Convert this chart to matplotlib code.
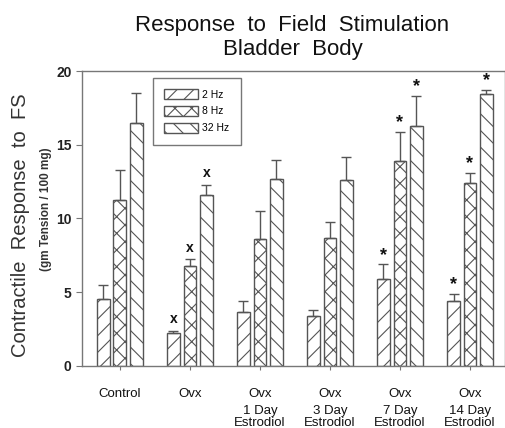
import numpy as np
import matplotlib.pyplot as plt
import matplotlib.transforms as mtransforms

plt.rcParams['font.family'] = ['Liberation Sans', 'DejaVu Sans']
plt.rcParams['hatch.color'] = '#555555'
plt.rcParams['hatch.linewidth'] = 0.8

# Data
groups = ['Control', 'Ovx', 'Ovx', 'Ovx', 'Ovx', 'Ovx']
sub_labels = ['', '', '1 Day\nEstrodiol', '3 Day\nEstrodiol', '7 Day\nEstrodiol', '14 Day\nEstrodiol']
freqs = ['2 Hz', '8 Hz', '32 Hz']

hz2 = [4.55, 2.26, 3.68, 3.39, 5.89, 4.40]
hz8 = [11.28, 6.79, 8.58, 8.69, 13.9, 12.4]
hz32 = [16.5, 11.62, 12.66, 12.6, 16.3, 18.46]

hz2_err = [0.95, 0.13, 0.74, 0.40, 0.99, 0.50]
hz8_err = [2.02, 0.43, 1.92, 1.04, 2.0, 0.7]
hz32_err = [2.0, 0.68, 1.34, 1.6, 2.0, 0.24]

# significance marks: per group, per frequency
marks2 = ['', 'x', '', '', '*', '*']
marks8 = ['', 'x', '', '', '*', '*']
marks32 = ['', 'x', '', '', '*', '*']

values = [hz2, hz8, hz32]
errors = [hz2_err, hz8_err, hz32_err]
marks = [marks2, marks8, marks32]
hatches = ['//', 'xx', '\\\\']

fig = plt.figure(figsize=(5.06, 4.28), dpi=100)
ax = fig.add_axes([0.162, 0.145, 0.836, 0.689])

x = np.arange(len(groups))
width = 0.18
offsets = [-0.235, 0, 0.235]
edge = '#555555'

for vals, errs, mk, h, off, lab in zip(values, errors, marks, hatches, offsets, freqs):
    ax.bar(x + off, vals, width, color='white', edgecolor=edge, hatch=h,
           linewidth=1.0, label=lab, zorder=2)
    ax.errorbar(x + off, vals, yerr=[np.zeros(len(vals)), errs], fmt='none',
                ecolor=edge, elinewidth=1.0, capsize=3.5, capthick=1.0, zorder=3)
    for xi, v, e, m in zip(x + off, vals, errs, mk):
        if m == 'x':
            ax.text(xi, v + e + 0.3, m, ha='center', va='bottom', fontsize=10,
                    fontweight='bold', color='#111111')
        elif m == '*':
            ax.text(xi, v + e + 0.05, m, ha='center', va='bottom', fontsize=13,
                    fontweight='bold', color='#111111')

ax.set_ylim(0, 20)
ax.set_xlim(-0.54, 5.5)
ax.set_yticks([0, 5, 10, 15, 20])
ax.set_yticklabels(['0', '5', '10', '15', '20'], fontsize=10, fontweight='bold',
                   color='#222222')
ax.set_xticks(x)
ax.set_xticklabels(groups, fontsize=9.5, color='#111111')
ax.tick_params(axis='y', direction='out', length=4, color='#777777')
ax.tick_params(axis='x', direction='out', length=3, color='#777777', pad=13)
for s in ax.spines.values():
    s.set_color('#777777')
    s.set_linewidth(1.0)

trans = mtransforms.blended_transform_factory(ax.transData, fig.transFigure)
for xi, s in zip(x, sub_labels):
    if s:
        ax.text(xi, (428 - 417) / 428, s, transform=trans, ha='center',
                va='center', fontsize=9.5, color='#111111', linespacing=0.95)

leg = ax.legend(loc='upper left', bbox_to_anchor=(0.168, 0.978), fontsize=7.5,
                frameon=True, fancybox=False, edgecolor='#555555',
                handlelength=3.2, handleheight=1.1, labelspacing=0.6,
                borderpad=1.1, handletextpad=0.4, borderaxespad=0.0)
leg.get_frame().set_linewidth(1.0)

fig.text(0.578, 0.912, 'Response  to  Field  Stimulation\nBladder  Body',
         ha='center', va='center', fontsize=16, color='#111111',
         linespacing=1.15)

fig.text(0.04, 0.474, 'Contractile  Response  to  FS', rotation=90,
         ha='center', va='center', fontsize=14.5, color='#333333')
fig.text(0.091, 0.512, '(gm Tension / 100 mg)', rotation=90,
         ha='center', va='center', fontsize=8.5, fontweight='bold',
         color='#333333')

fig.savefig('out.png', dpi=100)
